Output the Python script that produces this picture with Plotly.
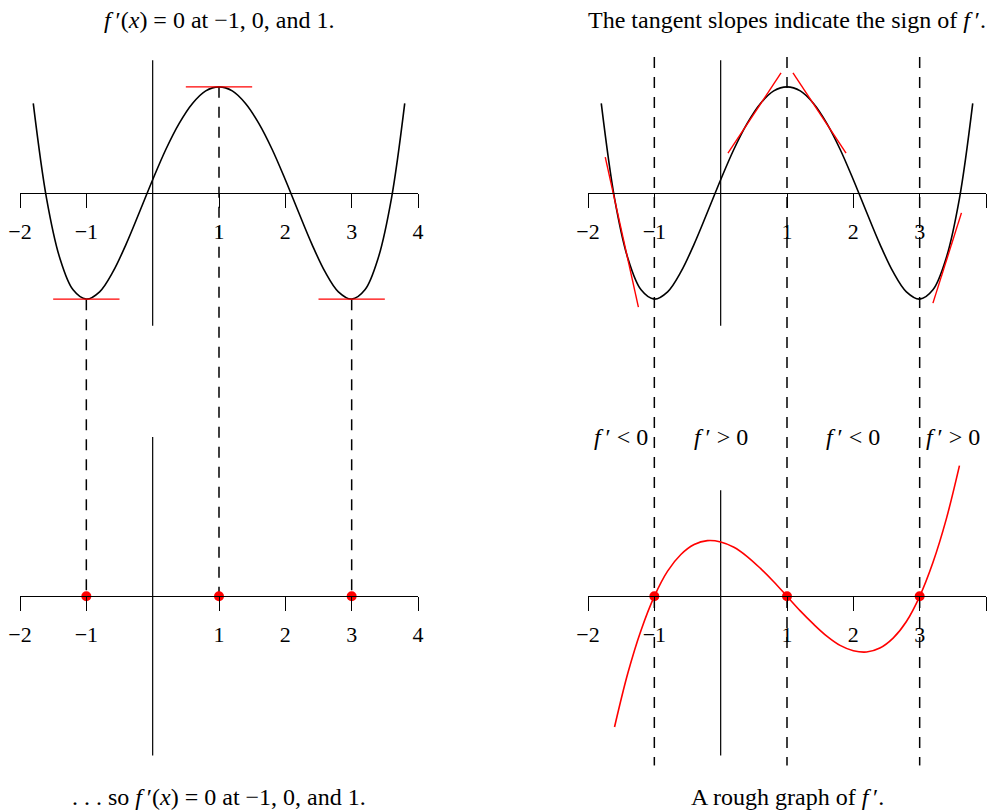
import plotly.graph_objects as go

x_f = [-1.8, -1.6, -1.4, -1.2, -1.0, -0.8, -0.6, -0.4, -0.2, 0.0, 0.2, 0.4, 0.6, 0.8, 1.0,
       1.2, 1.4, 1.6, 1.8, 2.0, 2.2, 2.4, 2.6, 2.8, 3.0, 3.2, 3.4, 3.6, 3.8]
y_f = [1.35, -0.08, -0.98, -1.46, -1.60, -1.49, -1.19, -0.77, -0.29, 0.20, 0.66, 1.05, 1.35, 1.54, 1.60,
       1.54, 1.35, 1.05, 0.66, 0.20, -0.29, -0.77, -1.19, -1.49, -1.60, -1.46, -0.98, -0.08, 1.35]

# puntos de f' (panel inferior derecho)
x_df = [-1.6, -1.4, -1.2, -1.0, -0.8, -0.6, -0.4, -0.2, 0.0, 0.2, 0.4, 0.6, 0.8, 1.0,
        1.2, 1.4, 1.6, 1.8, 2.0, 2.2, 2.4, 2.6, 2.8, 3.0, 3.2, 3.4, 3.6]
y_df = [-1.97, -1.16, -0.51, 0.0, 0.38, 0.63, 0.78, 0.84, 0.82, 0.74, 0.60, 0.42, 0.22, 0.0,
        -0.22, -0.42, -0.60, -0.74, -0.82, -0.84, -0.78, -0.63, -0.38, 0.0, 0.51, 1.16, 1.97]

# puntos criticos
x_criticos = [-1, 1, 3]
y_criticos = [-1.60, 1.60, -1.60]

# tangentes horizontales (panel superior izquierdo)
tan_h_x0 = [-1.5, 0.5, 2.5]
tan_h_x1 = [-0.5, 1.5, 3.5]
tan_h_y = [-1.60, 1.60, -1.60]

# tangentes inclinadas (panel superior derecho)
tan_x0 = [-1.74, 0.11, 1.09, 3.20]
tan_y0 = [0.54, 0.60, 1.81, -1.66]
tan_x1 = [-1.24, 0.91, 1.89, 3.63]
tan_y1 = [-1.72, 1.81, 0.60, -0.30]

# etiquetas de signo
F_PRIMA = "<i>f</i>\u2009′"
signo_x = [-1.5, 0.0, 2.0, 3.5]
signo_txt = [F_PRIMA + " &lt; 0", F_PRIMA + " &gt; 0", F_PRIMA + " &lt; 0", F_PRIMA + " &gt; 0"]

ticks_x = [-2, -1, 1, 2, 3, 4]

FUENTE = "Liberation Serif"
ANCHO, ALTO = 991, 812
ESCALA = 398 / 6  # px por unidad
BASE_INF = -6.08  # desplazamiento de los paneles inferiores
Y_RANGO = [-(ALTO - 193) / ESCALA, 193 / ESCALA]
X_RANGO = [-2, 4]


def pos_paper(y):
    return (y - Y_RANGO[0]) / (Y_RANGO[1] - Y_RANGO[0])


fig = go.Figure()


def linea(x, y, eje, color="black", ancho=1.6, dash=None, shape="linear"):
    fig.add_trace(go.Scatter(x=x, y=y, mode="lines", xaxis=eje, yaxis="y",
                             line=dict(color=color, width=ancho, dash=dash, shape=shape),
                             hoverinfo="skip", showlegend=False))


for eje in ["x", "x2"]:
    # ejes verticales
    linea([0, 0], [2.0, -2.0], eje, ancho=1.2)
    # curva f
    linea(x_f, y_f, eje, shape="spline")

linea([0, 0], [BASE_INF + 2.4, BASE_INF - 2.4], "x", ancho=1.2)
linea([0, 0], [BASE_INF + 1.6, BASE_INF - 2.4], "x2", ancho=1.2)

# lineas punteadas
for xc, yc in zip(x_criticos, y_criticos):
    linea([xc, xc], [yc, BASE_INF], "x", ancho=1.5, dash="11px,9px")
    linea([xc, xc], [2.05, BASE_INF - 2.55], "x2", ancho=1.5, dash="11px,9px")

# tangentes
for a, b, y in zip(tan_h_x0, tan_h_x1, tan_h_y):
    linea([a, b], [y, y], "x", color="red", ancho=1.4)
for a, b, c, d in zip(tan_x0, tan_y0, tan_x1, tan_y1):
    linea([a, c], [b, d], "x2", color="red", ancho=1.4)

# f'
linea(x_df, [v + BASE_INF for v in y_df], "x2", color="red", ancho=1.6, shape="spline")

for eje in ["x", "x2"]:
    fig.add_trace(go.Scatter(x=x_criticos, y=[BASE_INF] * len(x_criticos), mode="markers",
                             xaxis=eje, yaxis="y", marker=dict(color="red", size=10),
                             hoverinfo="skip", showlegend=False))

# trazas vacias para los ejes horizontales visibles
for eje in ["x3", "x4", "x5", "x6"]:
    fig.add_trace(go.Scatter(x=[None], y=[None], xaxis=eje, yaxis="y", showlegend=False, hoverinfo="skip"))


def eje_h(base, y0):
    return dict(overlaying=base, anchor="free", position=pos_paper(y0), range=X_RANGO,
                tickvals=ticks_x, ticks="outside", ticklen=14, tickwidth=1.2, tickcolor="black",
                showline=True, linecolor="black", linewidth=1.2, showgrid=False, zeroline=False,
                automargin=False, ticklabelstandoff=4,
                tickfont=dict(family=FUENTE, size=22, color="black"))


base_x = dict(range=X_RANGO, visible=False, showgrid=False, zeroline=False, automargin=False)
fig.update_layout(
    width=ANCHO, height=ALTO,
    margin=dict(l=0, r=0, t=0, b=0, autoexpand=False),
    paper_bgcolor="white", plot_bgcolor="white",
    showlegend=False,
    xaxis=dict(domain=[20 / ANCHO, 418 / ANCHO], **base_x),
    xaxis2=dict(domain=[588 / ANCHO, 986 / ANCHO], anchor="y", **base_x),
    yaxis=dict(domain=[0, 1], range=Y_RANGO, visible=False, showgrid=False, zeroline=False,
               automargin=False),
    xaxis3=eje_h("x", 0),
    xaxis4=eje_h("x", BASE_INF),
    xaxis5=eje_h("x2", 0),
    xaxis6=eje_h("x2", BASE_INF),
)

fuente = dict(family=FUENTE, size=24, color="black")
titulos = [
    ("x", 2.61, F_PRIMA + "(<i>x</i>) = 0 at −1, 0, and 1."),
    ("x2", 2.61, "The tangent slopes indicate the sign of " + F_PRIMA + "."),
    ("x", -9.11, ". . . so " + F_PRIMA + "(<i>x</i>) = 0 at −1, 0, and 1."),
    ("x2", -9.11, "A rough graph of " + F_PRIMA + "."),
]
for eje, y, txt in titulos:
    fig.add_annotation(x=1, y=y, xref=eje, yref="y", text=txt, showarrow=False, font=fuente)

for xs, txt in zip(signo_x, signo_txt):
    fig.add_annotation(x=xs, y=-3.68, xref="x2", yref="y", text=txt, showarrow=False, font=fuente)

# sin el margen por defecto del body, para que la figura llene la ventana
fig.write_html("out.html", config={"displayModeBar": False},
               post_script="document.body.style.margin = '0';")
